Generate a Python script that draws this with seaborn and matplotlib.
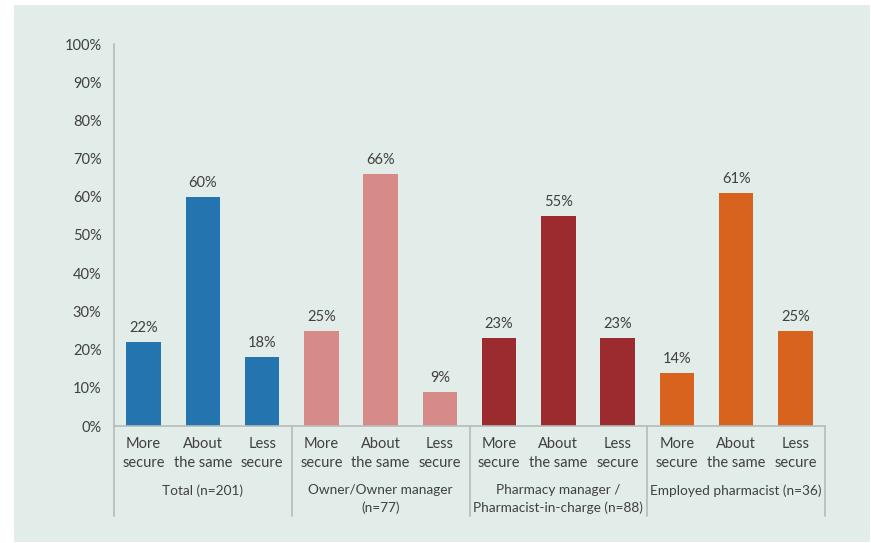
import matplotlib
matplotlib.use("Agg")
import matplotlib.pyplot as plt
from matplotlib.patches import Rectangle
import seaborn as sns
import pandas as pd

# Survey results: perceived job security by respondent group
groups = ["Total (n=201)", "Owner/Owner manager\n(n=77)",
          "Pharmacy manager /\nPharmacist-in-charge (n=88)",
          "Employed pharmacist (n=36)"]
categories = ["More\nsecure", "About\nthe same", "Less\nsecure"]
total = [22, 60, 18]
owner = [25, 66, 9]
pharmacy_manager = [23, 55, 23]
employed = [14, 61, 25]
group_colors = ["#2474b0", "#d68b88", "#9b2b2f", "#d8631f"]

values = [total, owner, pharmacy_manager, employed]
rows = []
for gi, (g, vals) in enumerate(zip(groups, values)):
    for ci, (c, v) in enumerate(zip(categories, vals)):
        rows.append({"slot": f"{gi}-{ci}", "group": g, "category": c, "pct": v / 100})
df = pd.DataFrame(rows)

sns.set_theme(style="white")
plt.rcParams["font.family"] = ["Lato", "DejaVu Sans"]
text_color = "#404040"
line_color = "#b4bcba"

W, H = 871, 543
fig = plt.figure(figsize=(W / 100, H / 100), dpi=100, facecolor="white")
fig.patches.append(Rectangle((14 / W, 1 - 542 / H), (870 - 14) / W, (542 - 5) / H,
                             transform=fig.transFigure, facecolor="#e2ece9",
                             edgecolor="none", zorder=-10))

x0, x1 = 114, 825
y0, y1 = 426, 44
ax = fig.add_axes([x0 / W, (H - y0) / H, (x1 - x0) / W, (y0 - y1) / H])
ax.set_facecolor("none")

sns.barplot(data=df, x="slot", y="pct", hue="group", palette=group_colors,
            dodge=False, width=0.58, legend=False, ax=ax, saturation=1,
            linewidth=0)

ax.set_xlim(-0.5, len(df) - 0.5)
ax.set_ylim(0, 1)
ax.set_yticks([i / 10 for i in range(11)])
ax.set_yticklabels([f"{i * 10}%" for i in range(11)], fontsize=10.5, color=text_color)
ax.set_xticks(range(len(df)))
ax.set_xticklabels(df["category"], fontsize=10.5, color=text_color, linespacing=1.45)
ax.tick_params(axis="both", length=0)
ax.tick_params(axis="y", pad=9)
ax.tick_params(axis="x", pad=8)
ax.set_xlabel("")
ax.set_ylabel("")

for s in ax.spines.values():
    s.set_visible(False)

# axis lines and group separators extending below the baseline
depth = -(516 - y0) / (y0 - y1)
ax.plot([-0.5, len(df) - 0.5], [0, 0], color=line_color, lw=1.2, clip_on=False, zorder=3)
for b in range(len(groups) + 1):
    xb = b * len(categories) - 0.5
    top = 1 if b == 0 else 0
    ax.plot([xb, xb], [depth, top], color=line_color, lw=1.2, clip_on=False, zorder=3)

# value labels above bars
for i, v in enumerate(df["pct"]):
    ax.annotate(f"{round(v * 100)}%", (i, v), xytext=(0, 10), textcoords="offset points",
                ha="center", va="center", fontsize=10.5, color=text_color)

# group labels below the category labels
gy = -(484 - y0) / (y0 - y1)
for gi, g in enumerate(groups):
    ax.text(gi * len(categories) + 1, gy, g, ha="center", va="top", fontsize=9.8,
            color=text_color, linespacing=1.55)

fig.savefig("out.png", dpi=100, facecolor="white")
